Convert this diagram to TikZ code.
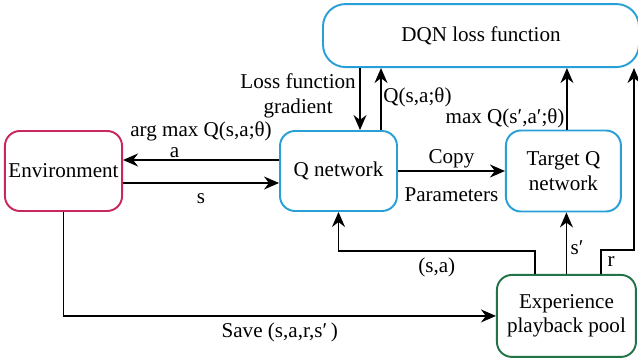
\documentclass[tikz,border=0pt]{standalone}
\usepackage{fontspec}
\setmainfont{Liberation Serif}
\usetikzlibrary{positioning,arrows.meta,calc}
\definecolor{envred}{RGB}{200,40,95}
\definecolor{netblue}{RGB}{40,160,215}
\definecolor{poolgreen}{RGB}{35,115,70}

\begin{document}
\begin{tikzpicture}[font=\fontsize{12}{14}\selectfont,>={Stealth[length=3mm,width=2.6mm]},
  b/.style={draw,line width=1.1pt,rounded corners=0.3cm,align=center,minimum height=1.6cm,inner sep=2pt},
  con/.style={line width=0.8pt}]
  \useasboundingbox (0,0) rectangle (12.76,-7.16);
  % agent side
  \node[b,draw=envred,minimum width=2.34cm] (env) at (1.27,-3.42) {Environment};
  \node[b,draw=netblue,minimum width=2.34cm,right=3.12cm of env] (q) {Q network};
  \node[b,draw=netblue,minimum width=2.3cm,minimum height=1.62cm,right=2.14cm of q] (tq) {Target Q\\network};
  \node[b,draw=netblue,rounded corners=0.45cm,minimum width=6.32cm,minimum height=1.26cm,anchor=south west]
       (loss) at ([xshift=0.86cm,yshift=1.24cm]q.north west) {DQN loss function};
  \node[b,draw=poolgreen,minimum width=2.78cm,minimum height=1.64cm,anchor=north west]
       (exp) at ([xshift=-0.18cm,yshift=-1.23cm]tq.south west) {Experience\\playback pool};
  % env <-> Q network
  \draw[con,->] ([yshift=0.22cm]q.west) -- ([yshift=0.22cm]env.east)
     node[pos=0.67,above=0.5pt,inner sep=0.5pt] {a}
     node[pos=0.5,above=0.25cm] {arg max Q(s,a;θ)};
  \draw[con,->] ([yshift=-0.24cm]env.east) -- ([yshift=-0.24cm]q.west) node[midway,below=2pt] {s};
  \draw[con,->] (q.east) -- (q.east -| tq.west)
     node[midway,above,inner sep=1.5pt] {Copy} node[midway,below=0.2cm] {Parameters};
  % links to the loss
  \coordinate (gq) at ([xshift=0.43cm]q.north);
  \coordinate (qq) at ([xshift=0.85cm]q.north);
  \coordinate (mq) at ([xshift=0.07cm]tq.north);
  \coordinate (rr) at ([xshift=-0.12cm]loss.south east);
  \draw[con,->] (gq |- loss.south) -- (gq) node[pos=0.45,left,align=center,inner sep=2pt] {Loss function\\gradient};
  \draw[con,->] (qq) -- (qq |- loss.south) node[pos=0.52,right,inner sep=1pt] {Q(s,a;θ)};
  \draw[con,->] (mq) -- (mq |- loss.south) node[pos=0.18,left,inner sep=1pt] {max Q(s′,a′;θ)};
  % replay pool
  \draw[con,->] (env.south) |- (exp.west) node[pos=0.75,below] {Save (s,a,r,s′\,)};
  \draw[con,->] ([xshift=-0.63cm]exp.north) -- ++(0,0.46) -| (q.south) node[pos=0.25,below] {(s,a)};
  \draw[con,->] (exp.north) -- (exp.north |- tq.south) node[pos=0.43,right,inner sep=2pt] {s′};
  \draw[con,->] ([xshift=0.69cm]exp.north) -- ++(0,0.48) node[midway,right] {r} -| (rr);
\end{tikzpicture}
\end{document}
